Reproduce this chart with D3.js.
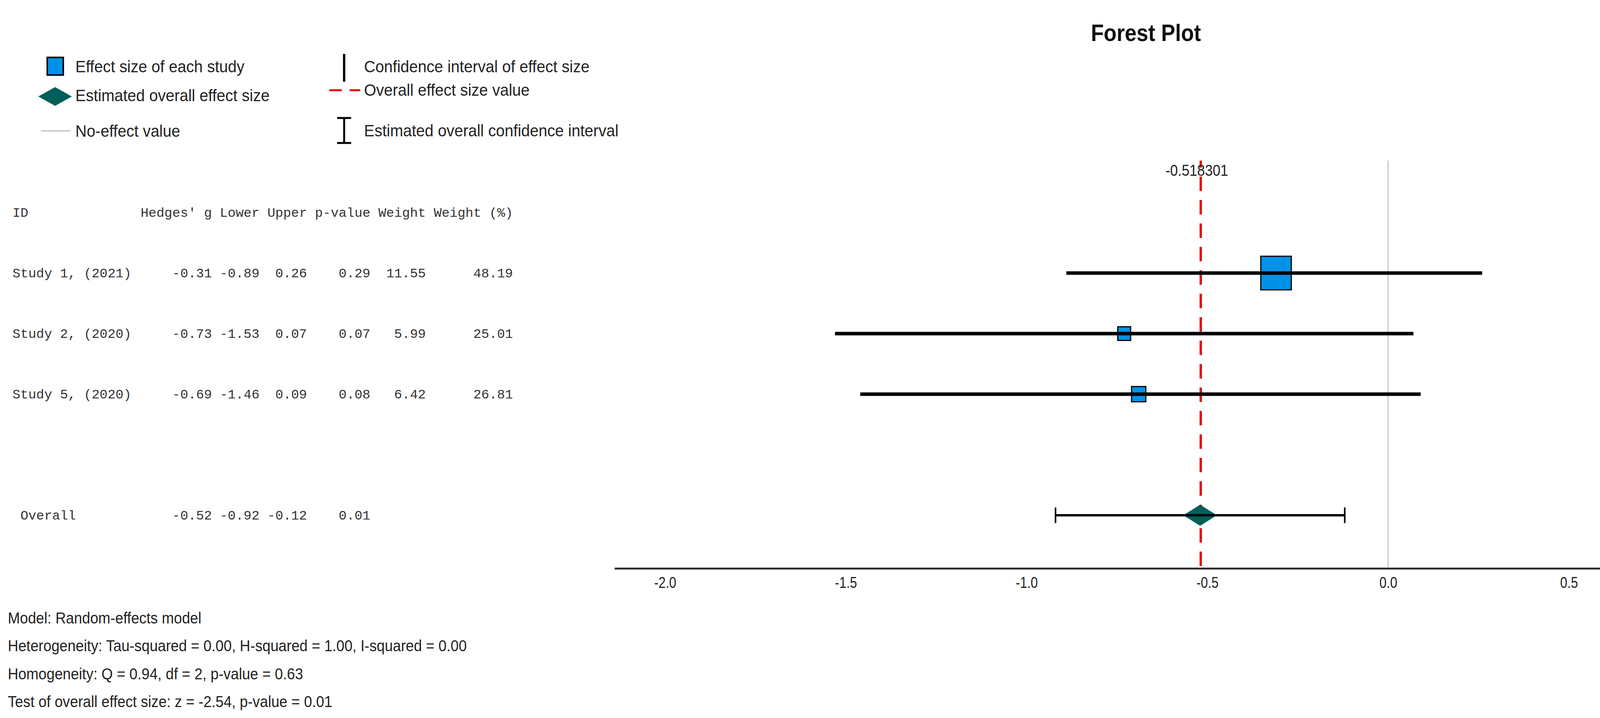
<!DOCTYPE html>
<html><head><meta charset="utf-8">
<script src="https://cdn.jsdelivr.net/npm/d3@7"></script>
<style>body{margin:0;background:#fff} svg{display:block} text{white-space:pre}</style>
</head><body>
<script>
// ---------------- data ----------------
const studyIds   = ["Study 1, (2021)", "Study 2, (2020)", "Study 5, (2020)"];
const hedgesG    = [-0.31, -0.73, -0.69];
const lowerCI    = [-0.89, -1.53, -1.46];
const upperCI    = [0.26, 0.07, 0.09];
const pValues    = [0.29, 0.07, 0.08];
const weights    = [11.55, 5.99, 6.42];
const weightPct  = [48.19, 25.01, 26.81];
const overallLabel  = " Overall";
const overallValues = [-0.52, -0.92, -0.12, 0.01]; // g, lower, upper, p
const overallEffect = -0.518301;
const noEffect = 0;
const tableHeaders = ["Hedges' g", "Lower", "Upper", "p-value", "Weight", "Weight (%)"];
const xTicks = [-2.0, -1.5, -1.0, -0.5, 0.0, 0.5];
const titleText = "Forest Plot";
const legendLeft  = ["Effect size of each study", "Estimated overall effect size", "No-effect value"];
const legendRight = ["Confidence interval of effect size", "Overall effect size value", "Estimated overall confidence interval"];
const footnotes = [
  "Model: Random-effects model",
  "Heterogeneity: Tau-squared = 0.00, H-squared = 1.00, I-squared = 0.00",
  "Homogeneity: Q = 0.94, df = 2, p-value = 0.63",
  "Test of overall effect size: z = -2.54, p-value = 0.01"
];

// ---------------- setup ----------------
const W = 4312, H = 1838;
const loc = d3.formatLocale({decimal: ".", thousands: ",", grouping: [3], currency: ["", ""], minus: "-"});
const f2 = loc.format(".2f"), f1 = loc.format(".1f");
const textColor = "#222";
const sans = "'Liberation Sans', Arial, sans-serif";
const mono = "'Liberation Mono', 'Courier New', monospace";

const svg = d3.select("body").append("svg").attr("width", W).attr("height", H)
  .style("background", "#fff");

function condense(sel, f) {
  sel.each(function () {
    const w = this.getComputedTextLength();
    this.setAttribute("textLength", w * f);
    this.setAttribute("lengthAdjust", "spacingAndGlyphs");
  });
}

// scales
const x = d3.scaleLinear().domain([-2.14, 0.80]).range([1573, 4294]);
const rowKeys = ["header", ...studyIds, "blank", "overall"];
const y = d3.scalePoint().domain(rowKeys).range([544, 1319]);
const axisY = 1455, plotTop = 411;
const boxW = d3.scaleLinear().domain(d3.extent(weightPct)).range([33, 78]);
const boxH = d3.scaleLinear().domain(d3.extent(weightPct)).range([35, 86]);

// ---------------- title ----------------
svg.append("text").attr("x", (x.range()[0] + x.range()[1]) / 2).attr("y", 105)
  .attr("text-anchor", "middle").attr("font-family", sans).attr("font-weight", "bold")
  .attr("font-size", 62).attr("fill", "#111").text(titleText).call(condense, 0.87);

// ---------------- legend ----------------
const lg = svg.append("g");
const legFont = 43, legF = 0.93;
const leftX = 193, rightX = 932;
const leftBase = [185, 259, 350], rightBase = [185, 245, 349];
lg.selectAll("text.l").data(legendLeft).join("text").attr("class", "l")
  .attr("x", leftX).attr("y", (d, i) => leftBase[i])
  .attr("font-family", sans).attr("font-size", legFont).attr("fill", textColor)
  .text(d => d).call(condense, legF);
lg.selectAll("text.r").data(legendRight).join("text").attr("class", "r")
  .attr("x", rightX).attr("y", (d, i) => rightBase[i])
  .attr("font-family", sans).attr("font-size", legFont).attr("fill", textColor)
  .text(d => d).call(condense, legF);
// blue box
lg.append("rect").attr("x", 121).attr("y", 147).attr("width", 41).attr("height", 45)
  .attr("fill", "#0092e8").attr("stroke", "#000").attr("stroke-width", 4);
// diamond
lg.append("path").attr("d", "M98,247 L141,223 L184,247 L141,271 Z").attr("fill", "#005f5a");
// gray line
lg.append("line").attr("x1", 105).attr("x2", 180).attr("y1", 335).attr("y2", 335)
  .attr("stroke", "#cccccc").attr("stroke-width", 4);
// CI line symbol
lg.append("line").attr("x1", 881).attr("x2", 881).attr("y1", 138).attr("y2", 209)
  .attr("stroke", "#000").attr("stroke-width", 6);
// red dashed
lg.append("line").attr("x1", 843).attr("x2", 922).attr("y1", 231).attr("y2", 231)
  .attr("stroke", "#e60000").attr("stroke-width", 5).attr("stroke-dasharray", "32,20");
// I-beam
const ib = lg.append("g").attr("stroke", "#000").attr("stroke-width", 5);
ib.append("line").attr("x1", 881).attr("x2", 881).attr("y1", 302).attr("y2", 366);
ib.append("line").attr("x1", 863).attr("x2", 899).attr("y1", 302).attr("y2", 302);
ib.append("line").attr("x1", 863).attr("x2", 899).attr("y1", 366).attr("y2", 366);

// ---------------- table ----------------
const tFont = 33.8, adv = tFont * 0.6, tx0 = 360, idX = 32, capHalf = 11;
const colEnds = [];
{ let c = 0; tableHeaders.forEach((h, i) => { c += h.length; colEnds.push(tx0 + c * adv); c += 1; }); }
const tg = svg.append("g").attr("font-family", mono).attr("font-size", tFont).attr("fill", "#333");
tg.append("text").attr("x", idX).attr("y", y("header") + capHalf).text("ID");
tg.append("text").attr("x", tx0).attr("y", y("header") + capHalf).text(tableHeaders.join(" "));
studyIds.forEach((id, i) => {
  const yy = y(id) + capHalf;
  tg.append("text").attr("x", idX).attr("y", yy).text(id);
  const vals = [f2(hedgesG[i]), f2(lowerCI[i]), f2(upperCI[i]), f2(pValues[i]), f2(weights[i]), f2(weightPct[i])];
  vals.forEach((v, j) => tg.append("text").attr("x", colEnds[j]).attr("y", yy).attr("text-anchor", "end").text(v));
});
tg.append("text").attr("x", idX).attr("y", y("overall") + capHalf).text(overallLabel);
overallValues.forEach((v, j) => tg.append("text").attr("x", colEnds[j]).attr("y", y("overall") + capHalf)
  .attr("text-anchor", "end").text(f2(v)));

// ---------------- footnotes ----------------
svg.append("g").selectAll("text").data(footnotes).join("text")
  .attr("x", 20).attr("y", (d, i) => 1596 + i * 71.3)
  .attr("font-family", sans).attr("font-size", 40).attr("fill", textColor)
  .text(d => d).call(condense, 0.93);

// ---------------- plot ----------------
const pg = svg.append("g");
// no-effect line
pg.append("line").attr("x1", x(noEffect)).attr("x2", x(noEffect)).attr("y1", plotTop).attr("y2", axisY)
  .attr("stroke", "#c8c8c8").attr("stroke-width", 3);
// overall effect dashed line
pg.append("line").attr("x1", x(overallEffect)).attr("x2", x(overallEffect)).attr("y1", plotTop).attr("y2", axisY)
  .attr("stroke", "#e60000").attr("stroke-width", 6).attr("stroke-dasharray", "37,23").attr("stroke-dashoffset", 19);

// axis
const axis = d3.axisBottom(x).tickValues(xTicks).tickFormat(f1).tickSize(0).tickSizeOuter(0).tickPadding(22);
const ag = svg.append("g").attr("transform", `translate(0,${axisY})`).call(axis);
ag.select(".domain").attr("stroke", "#333").attr("stroke-width", 5);
ag.selectAll(".tick text").attr("font-family", sans).attr("font-size", 40).attr("fill", textColor)
  .attr("dy", "0.71em").call(condense, 0.82);

// study CI lines
pg.selectAll("line.ci").data(studyIds).join("line").attr("class", "ci")
  .attr("x1", (d, i) => x(lowerCI[i])).attr("x2", (d, i) => x(upperCI[i]))
  .attr("y1", d => y(d)).attr("y2", d => y(d))
  .attr("stroke", "#000").attr("stroke-width", 9);
// study boxes
pg.selectAll("rect.box").data(studyIds).join("rect").attr("class", "box")
  .attr("x", (d, i) => x(hedgesG[i]) - boxW(weightPct[i]) / 2)
  .attr("y", (d, i) => y(d) - boxH(weightPct[i]) / 2)
  .attr("width", (d, i) => boxW(weightPct[i])).attr("height", (d, i) => boxH(weightPct[i]))
  .attr("fill", "#0092e8").attr("stroke", "#000").attr("stroke-width", 3);
// line through boxes
pg.selectAll("line.ci2").data(studyIds).join("line").attr("class", "ci2")
  .attr("x1", (d, i) => x(hedgesG[i]) - boxW(weightPct[i]) / 2).attr("x2", (d, i) => x(hedgesG[i]) + boxW(weightPct[i]) / 2)
  .attr("y1", d => y(d)).attr("y2", d => y(d))
  .attr("stroke", "#000").attr("stroke-width", 9);

// overall CI with caps
const oy = y("overall");
const og = pg.append("g").attr("stroke", "#000");
og.append("line").attr("x1", x(overallValues[1])).attr("x2", x(overallValues[2])).attr("y1", oy).attr("y2", oy)
  .attr("stroke-width", 6);
[overallValues[1], overallValues[2]].forEach(v =>
  og.append("line").attr("x1", x(v)).attr("x2", x(v)).attr("y1", oy - 20).attr("y2", oy + 20).attr("stroke-width", 4));
// diamond
const dx = x(overallValues[0]);
pg.append("path").attr("d", `M${dx - 43},${oy} L${dx},${oy - 27} L${dx + 43},${oy} L${dx},${oy + 27} Z`)
  .attr("fill", "#005f5a");
pg.append("line").attr("x1", dx - 43).attr("x2", dx + 43).attr("y1", oy).attr("y2", oy)
  .attr("stroke", "#000").attr("stroke-width", 6);

// overall effect label
pg.append("text").attr("x", x(overallEffect) - 10).attr("y", 450).attr("text-anchor", "middle")
  .attr("font-family", sans).attr("font-size", 40).attr("fill", textColor)
  .text(String(overallEffect)).call(condense, 0.89);
</script>
</body></html>
